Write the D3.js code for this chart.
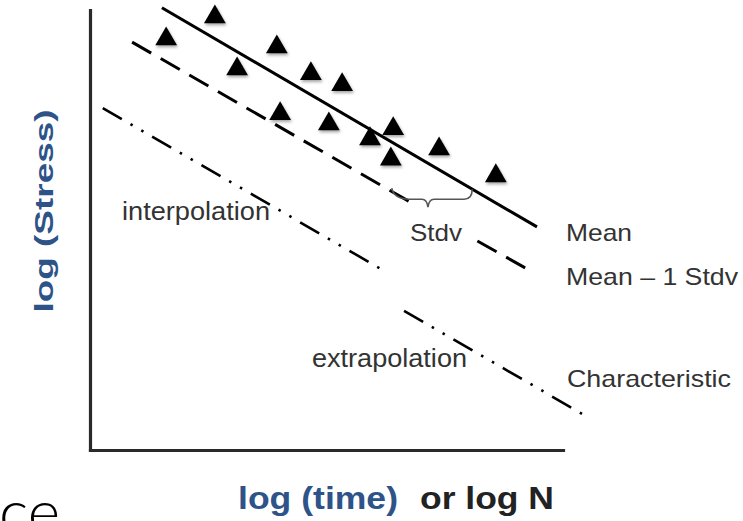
<!DOCTYPE html>
<html>
<head>
<meta charset="utf-8">
<script src="https://cdn.jsdelivr.net/npm/d3@7"></script>
<style>
  html, body { margin: 0; padding: 0; background: #fff; overflow: hidden; }
  svg { display: block; }
</style>
</head>
<body>
<svg id="chart" width="743" height="521"></svg>
<script>
// ---- data (in log units of the schematic) ----
const pointX = [1.61, 2.64, 3.11, 3.95, 4.67, 5.33, 4.02, 5.05, 5.92, 6.41, 6.36, 7.38, 8.58];
const pointY = [9.34, 9.84, 8.66, 9.16, 8.55, 8.30, 7.64, 7.41, 7.07, 7.30, 6.61, 6.84, 6.23];

const meanLineX = [1.52, 9.45];
const meanLineY = [10.05, 5.07];

const stdvLineSegA_X = [0.89, 6.81];
const stdvLineSegA_Y = [9.27, 5.61];
const stdvLineSegB_X = [8.19, 9.20];
const stdvLineSegB_Y = [4.75, 4.14];

const charInterpX = [0.27, 6.19];
const charInterpY = [7.77, 4.09];
const charExtrapX = [6.64, 10.44];
const charExtrapY = [3.16, 0.80];

const braceX = [6.38, 8.08];
const braceY = [5.95];

const lineLabels = ["Mean", "Mean \u2013 1 Stdv", "Characteristic"];
const regionLabels = ["interpolation", "extrapolation", "Stdv"];
const yTitle = "log (Stress)";
const xTitleA = "log (time)";
const xTitleB = "or log N";
const cornerText = "ce";

// ---- scales ----
const svg = d3.select("#chart");
const x = d3.scaleLinear().domain([0, 10]).range([90, 563]);
const y = d3.scaleLinear().domain([0, 10]).range([450, 10]);

const defs = svg.append("defs");
const f = defs.append("filter").attr("id", "shadow")
  .attr("x", "-30%").attr("y", "-30%").attr("width", "160%").attr("height", "160%");
f.append("feDropShadow").attr("dx", 1).attr("dy", 2).attr("stdDeviation", 1.5)
  .attr("flood-color", "#000").attr("flood-opacity", 0.35);

// ---- axes (no ticks) ----
const axisColor = "#2a2a2a";
const gx = svg.append("g").attr("transform", `translate(0,${y(0)})`)
  .call(d3.axisBottom(x).tickValues([]).tickSizeOuter(0));
const gy = svg.append("g").attr("transform", `translate(${x(0)},0)`)
  .call(d3.axisLeft(y).tickValues([]).tickSizeOuter(0));
[gx, gy].forEach(g => g.select(".domain")
  .attr("stroke", axisColor).attr("stroke-width", 3.2).attr("stroke-linecap", "square"));

// ---- lines ----
const line = d3.line().x(d => x(d[0])).y(d => y(d[1]));
function seg(xs, ys) { return xs.map((v, i) => [v, ys[i]]); }

svg.append("path").datum(seg(meanLineX, meanLineY)).attr("d", line)
  .attr("fill", "none").attr("stroke", "#000").attr("stroke-width", 3);

[seg(stdvLineSegA_X, stdvLineSegA_Y), seg(stdvLineSegB_X, stdvLineSegB_Y)].forEach(s => {
  svg.append("path").datum(s).attr("d", line)
    .attr("fill", "none").attr("stroke", "#000").attr("stroke-width", 3)
    .attr("stroke-dasharray", "22,11");
});

[seg(charInterpX, charInterpY), seg(charExtrapX, charExtrapY)].forEach(s => {
  svg.append("path").datum(s).attr("d", line)
    .attr("fill", "none").attr("stroke", "#000").attr("stroke-width", 2.6)
    .attr("stroke-dasharray", "22,10,2.5,10,2.5,10");
});

// ---- points ----
const tri = d3.symbol().type(d3.symbolTriangle).size(205);
svg.append("g").selectAll("path").data(pointX.map((v, i) => [v, pointY[i]]))
  .join("path")
  .attr("d", tri)
  .attr("transform", d => `translate(${x(d[0])},${y(d[1])})`)
  .attr("fill", "#000")
  .attr("filter", "url(#shadow)");

// ---- brace ----
const bx0 = x(braceX[0]), bx1 = x(braceX[1]), by = y(braceY[0]);
const bmid = bx0 + (bx1 - bx0) * 0.45;
const bar = by + 11;
const bracePath = `M${bx0},${by} Q${bx0 + 2},${bar} ${bx0 + 18},${bar} L${bmid - 6},${bar} Q${bmid - 1},${bar} ${bmid},${bar + 8} Q${bmid + 1},${bar} ${bmid + 6},${bar} L${bx1 - 8},${bar} Q${bx1},${bar} ${bx1},${by + 1}`;
svg.append("path").attr("d", bracePath).attr("fill", "none")
  .attr("stroke", "#555").attr("stroke-width", 1.6);

// ---- text ----
function label(txt, px, py, size, width, opts = {}) {
  const t = svg.append("text")
    .attr("x", px).attr("y", py)
    .attr("font-family", "Liberation Sans, Arial, sans-serif")
    .attr("font-size", size)
    .attr("font-weight", opts.weight || "normal")
    .attr("fill", opts.fill || "#333")
    .attr("textLength", width)
    .attr("lengthAdjust", "spacingAndGlyphs")
    .text(txt);
  if (opts.anchor) t.attr("text-anchor", opts.anchor);
  if (opts.transform) t.attr("transform", opts.transform);
  return t;
}

label(lineLabels[0], 566, 241, 24, 66);
label(lineLabels[1], 566, 285, 24, 172);
label(lineLabels[2], 567, 387, 24, 164);

label(regionLabels[0], 122, 220, 25, 148);
label(regionLabels[1], 312, 367, 25, 155);
label(regionLabels[2], 410, 241, 24, 52);

const blue = "#2d5389";
label(yTitle, 0, 0, 26, 203, { weight: "bold", fill: blue, anchor: "middle",
  transform: "translate(53,211) rotate(-90)" });
label(xTitleA, 238, 509, 31, 160, { weight: "bold", fill: blue });
label(xTitleB, 420, 509, 31, 134, { weight: "bold", fill: "#222" });

svg.append("text").attr("x", 60).attr("y", 534)
  .attr("text-anchor", "end")
  .attr("font-family", "Lato, 'Open Sans', sans-serif")
  .attr("font-weight", 300)
  .attr("font-size", 62)
  .attr("fill", "#000")
  .text(cornerText);
</script>
</body>
</html>
